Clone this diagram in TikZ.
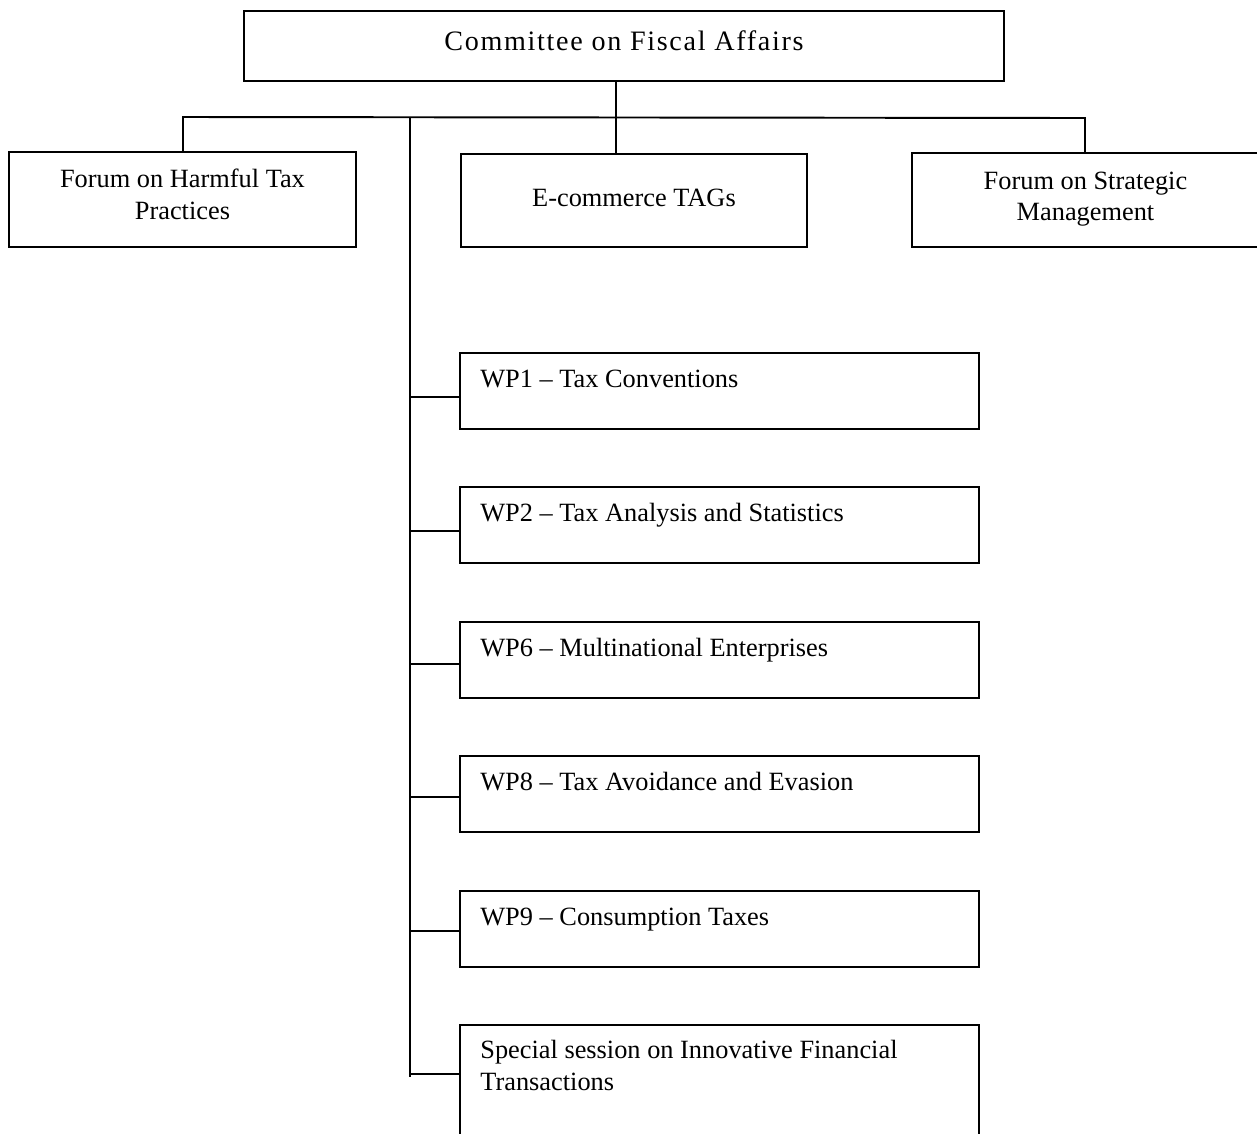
\documentclass[tikz,border=0pt]{standalone}
\usepackage{fontspec}
\setmainfont{Liberation Serif}
\newfontfamily\titlefont[LetterSpace=6]{Liberation Serif}
\newlength\px
\setlength\px{0.02cm}

\begin{document}
\begin{tikzpicture}[x=1\px, y=-1\px,
    orgbox/.style={draw, rectangle, line width=1.1pt, anchor=north west, inner sep=0pt,
      align=center, font=\fontsize{15}{18}\selectfont},
    topbox/.style={orgbox, minimum width=347\px, minimum height=94\px},
    wpbox/.style={orgbox, minimum width=519\px, minimum height=76\px},
    wptext/.style={anchor=base west, inner sep=0pt, align=left, font=\fontsize{15}{18}\selectfont},
    link/.style={line width=1.1pt}]
	\useasboundingbox (0,0) rectangle (1257,1133);
	\clip (0,0) rectangle (1257,1133);

	% Committee
	\node[orgbox, minimum width=760\px, minimum height=70\px] (cfa) at (243,10)
		{\titlefont\fontsize{16}{19}\selectfont Committee on Fiscal Affairs\rule[-6pt]{0pt}{1pt}};

	% Forums and TAGs
	\node[topbox, minimum height=95\px] (harmful) at (8,151) {Forum on Harmful Tax\\Practices\rule[-6pt]{0pt}{1pt}};
	\node[topbox, minimum width=346\px, minimum height=93\px] (ecom) at (460,153) {E-commerce TAGs\rule[-3pt]{0pt}{1pt}};
	\node[topbox] (strat) at (911,152) {Forum on Strategic\\Management\rule[-4pt]{0pt}{1pt}};

	% Working parties
	\node[wpbox] (wp1) at (459,352) {};
	\node[wptext] (wp1t) at ([xshift=21\px,yshift=-35\px]wp1.north west) {WP1 – Tax Conventions};
	\node[wpbox] (wp2) at (459,486) {};
	\node[wptext] (wp2t) at ([xshift=21\px,yshift=-35\px]wp2.north west) {WP2 – Tax Analysis and Statistics};
	\node[wpbox] (wp6) at (459,621) {};
	\node[wptext] (wp6t) at ([xshift=21\px,yshift=-35\px]wp6.north west) {WP6 – Multinational Enterprises};
	\node[wpbox] (wp8) at (459,755) {};
	\node[wptext] (wp8t) at ([xshift=21\px,yshift=-35\px]wp8.north west) {WP8 – Tax Avoidance and Evasion};
	\node[wpbox] (wp9) at (459,890) {};
	\node[wptext] (wp9t) at ([xshift=21\px,yshift=-35\px]wp9.north west) {WP9 – Consumption Taxes};

	% Special session
	\node[wpbox, minimum height=130\px] (sis) at (459,1024) {};
	\node[wptext] (sist) at ([xshift=21\px,yshift=-66\px]sis.north west)
		{Special session on Innovative Financial\\Transactions};

	% Connectors
	\coordinate (hub) at (616,117);
	\coordinate (busL) at (183,117);
	\coordinate (busR) at (1085,118);
	\coordinate (spineTop) at (410,117);
	\coordinate (spineBot) at (410,1077);
	\draw[link] (hub |- cfa.south) -- (hub |- ecom.north);
	\draw[link] (busL |- harmful.north) -- (busL) -- (busR) -- (busR |- strat.north);
	\draw[link] (spineTop) -- (spineBot);
	\foreach \n/\d in {wp1/45, wp2/45, wp6/43, wp8/42, wp9/41, sis/50} {
		\path ([yshift=-\d\px]\n.north west) coordinate (\n-in);
		\draw[link] (\n-in) -- (spineTop |- \n-in);
	}
\end{tikzpicture}
\end{document}
